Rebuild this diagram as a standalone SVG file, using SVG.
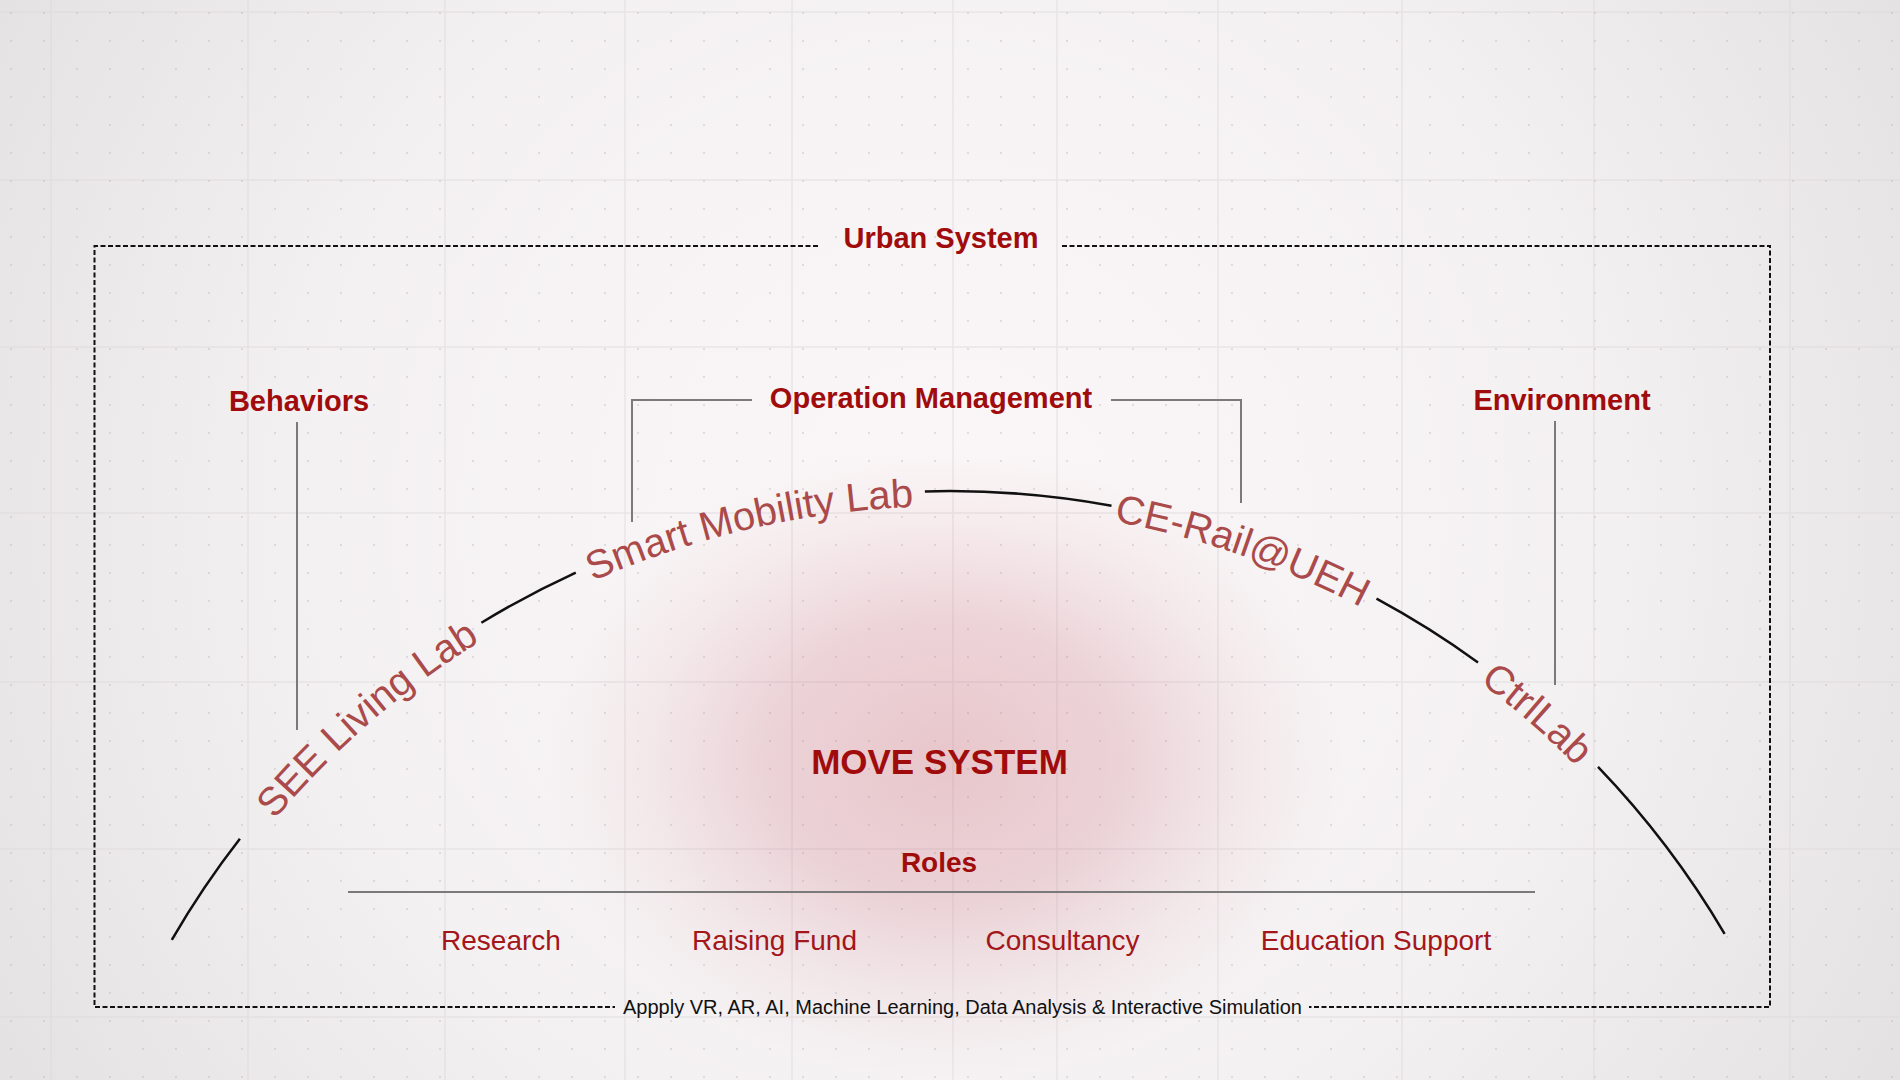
<svg xmlns="http://www.w3.org/2000/svg" width="1900" height="1080" viewBox="0 0 1900 1080">
<defs>
  <radialGradient id="bg" cx="950" cy="520" r="1150" gradientUnits="userSpaceOnUse">
    <stop offset="0" stop-color="#fbf7f8"/>
    <stop offset="0.55" stop-color="#f4f1f2"/>
    <stop offset="1" stop-color="#e2e0e1"/>
  </radialGradient>
  <radialGradient id="glow" cx="0.5" cy="0.5" r="0.5">
    <stop offset="0" stop-color="#c76c79" stop-opacity="0.34"/>
    <stop offset="0.45" stop-color="#c97481" stop-opacity="0.26"/>
    <stop offset="0.78" stop-color="#d08a95" stop-opacity="0.09"/>
    <stop offset="1" stop-color="#d8a0a8" stop-opacity="0"/>
  </radialGradient>
  <pattern id="dots" width="33" height="28" patternUnits="userSpaceOnUse" x="11" y="13">
    <circle cx="0" cy="0" r="1.1" fill="#bdb7ba"/>
    <circle cx="33" cy="0" r="1.1" fill="#bdb7ba"/>
    <circle cx="0" cy="28" r="1.1" fill="#bdb7ba"/>
    <circle cx="33" cy="28" r="1.1" fill="#bdb7ba"/>
  </pattern>
  <path id="arcText" d="M119.3,1087.7 A884,884 0 0 1 1780.7,1087.7"/>
  <style>
    .lbl{font-family:"Liberation Sans",Arial,Helvetica,sans-serif;font-weight:bold;font-size:29px;fill:#a00b0b;text-anchor:middle}
    .role{font-family:"Liberation Sans",Arial,Helvetica,sans-serif;font-size:28px;fill:#a3161a;text-anchor:middle}
    .lab{font-family:"Liberation Sans",Arial,Helvetica,sans-serif;font-size:40px;fill:#aa4a4a}
    .note{font-family:"Liberation Sans",Arial,Helvetica,sans-serif;font-size:20px;fill:#111111;text-anchor:middle}
    .arc{fill:none;stroke:#111111;stroke-width:2.5}
    .lead{fill:none;stroke:#7a7a7a;stroke-width:2}
    .frame{fill:none;stroke:#111111;stroke-width:2;stroke-dasharray:5 2.5}
    .grid{stroke:#dedadc;stroke-width:1.5;opacity:0.55}
  </style>
</defs>

<g id="background">
  <rect x="0" y="0" width="1900" height="1080" fill="url(#bg)"/>
  <g class="grid">
    <line x1="51" y1="0" x2="51" y2="1080"/>
    <line x1="248" y1="0" x2="248" y2="1080"/>
    <line x1="445" y1="0" x2="445" y2="1080"/>
    <line x1="625" y1="0" x2="625" y2="1080"/>
    <line x1="792" y1="0" x2="792" y2="1080"/>
    <line x1="953" y1="0" x2="953" y2="1080"/>
    <line x1="1057" y1="0" x2="1057" y2="1080"/>
    <line x1="1218" y1="0" x2="1218" y2="1080"/>
    <line x1="1402" y1="0" x2="1402" y2="1080"/>
    <line x1="1594" y1="0" x2="1594" y2="1080"/>
    <line x1="1790" y1="0" x2="1790" y2="1080"/>
    <line x1="0" y1="12" x2="1900" y2="12"/>
    <line x1="0" y1="180" x2="1900" y2="180"/>
    <line x1="0" y1="347" x2="1900" y2="347"/>
    <line x1="0" y1="513" x2="1900" y2="513"/>
    <line x1="0" y1="682" x2="1900" y2="682"/>
    <line x1="0" y1="849" x2="1900" y2="849"/>
    <line x1="0" y1="1017" x2="1900" y2="1017"/>
  </g>
  <rect x="0" y="0" width="1900" height="1080" fill="url(#dots)" opacity="0.5"/>
  <ellipse cx="945" cy="760" rx="400" ry="320" fill="url(#glow)"/>
</g>

<g id="frame">
  <path class="frame" d="M818,246 H94.5 V1007 H615"/>
  <path class="frame" d="M1062,246 H1770 V1007 H1309"/>
  <text class="lbl" x="941" y="248">Urban System</text>
  <text class="note" x="962.5" y="1014" textLength="679" lengthAdjust="spacingAndGlyphs">Appply VR, AR, AI, Machine Learning, Data Analysis &amp; Interactive Simulation</text>
</g>

<g id="connectors">
  <path class="arc" d="M171.8,939.8 A899,899 0 0 1 239.9,838.7"/>
  <path class="arc" d="M481.4,622.8 A899,899 0 0 1 575.8,572.6"/>
  <path class="arc" d="M924.9,491.4 A899,899 0 0 1 1111.5,505.7"/>
  <path class="arc" d="M1376.5,598.6 A899,899 0 0 1 1478,662.4"/>
  <path class="arc" d="M1598,766.9 A899,899 0 0 1 1724.6,933.8"/>
  <path class="lead" d="M297,422 V730"/>
  <path class="lead" d="M632,522 V400 H752"/>
  <path class="lead" d="M1111,400 H1241 V503"/>
  <path class="lead" d="M1555,421 V685"/>
  <path class="lead" d="M348,892 H1535"/>
</g>

<g id="behaviors"><text class="lbl" x="299" y="411">Behaviors</text></g>
<g id="operation-management"><text class="lbl" x="931" y="408">Operation Management</text></g>
<g id="environment"><text class="lbl" x="1562" y="410">Environment</text></g>

<g id="see-living-lab"><text class="lab"><textPath href="#arcText" startOffset="448" text-anchor="middle">SEE Living Lab</textPath></text></g>
<g id="smart-mobility-lab"><text class="lab"><textPath href="#arcText" startOffset="878" text-anchor="middle">Smart Mobility Lab</textPath></text></g>
<g id="ce-rail"><text class="lab"><textPath href="#arcText" startOffset="1376" text-anchor="middle">CE-Rail@UEH</textPath></text></g>
<g id="ctrllab"><text class="lab"><textPath href="#arcText" startOffset="1712" text-anchor="middle">CtrlLab</textPath></text></g>

<g id="move-system"><text class="lbl" x="939.5" y="774" style="font-size:35px">MOVE SYSTEM</text></g>
<g id="roles"><text class="lbl" x="939" y="872" style="font-size:28px">Roles</text></g>
<g id="research"><text class="role" x="501" y="950">Research</text></g>
<g id="raising-fund"><text class="role" x="774.5" y="950">Raising Fund</text></g>
<g id="consultancy"><text class="role" x="1062.5" y="950">Consultancy</text></g>
<g id="education-support"><text class="role" x="1376" y="950">Education Support</text></g>
</svg>
